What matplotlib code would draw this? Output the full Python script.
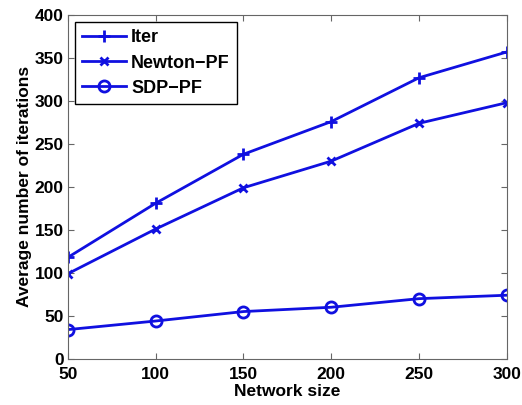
import matplotlib
matplotlib.use("Agg")
import matplotlib.pyplot as plt

sizes = [50, 100, 150, 200, 250, 300]
iter_vals = [118, 181, 238, 276, 327, 357]
newton_vals = [99, 151, 199, 230, 274, 298]
sdp_vals = [34, 44, 55, 60, 70, 74]

plt.rcParams['font.family'] = ['Liberation Sans', 'DejaVu Sans']
plt.rcParams['font.weight'] = 'bold'

blue = '#1010e0'

fig = plt.figure(figsize=(5.22, 4.05), dpi=100)
ax = fig.add_axes([0.130, 0.114, 0.841, 0.849])

ax.plot(sizes, iter_vals, '-+', color=blue, lw=2, ms=9, mew=2, label='Iter')
ax.plot(sizes, newton_vals, '-x', color=blue, lw=2, ms=6, mew=2, label='Newton\u2212PF')
ax.plot(sizes, sdp_vals, '-o', color=blue, lw=2, ms=8, mew=2, mfc='none', label='SDP\u2212PF')

ax.set_xlim(50, 300)
ax.set_ylim(0, 400)
ax.set_xticks(sizes)
ax.set_yticks(range(0, 401, 50))
ax.tick_params(direction='in', top=True, right=True, labelsize=12.5, length=4, color='#666666')
ax.tick_params(axis='x', pad=6)
ax.tick_params(axis='y', pad=3)
for s in ax.spines.values():
    s.set_color('#666666')

ax.set_xlabel('Network size', fontsize=12.5, fontweight='bold', labelpad=1)
ax.set_ylabel('Average number of iterations', fontsize=12.5, fontweight='bold', labelpad=2)

leg = ax.legend(loc='upper left', fontsize=13, fancybox=False, framealpha=1,
                edgecolor='black', handlelength=2.4, borderpad=0.4, labelspacing=0.45,
                handletextpad=0.3, borderaxespad=0.4)
leg.get_frame().set_linewidth(1)

fig.savefig('out.png', dpi=100)
